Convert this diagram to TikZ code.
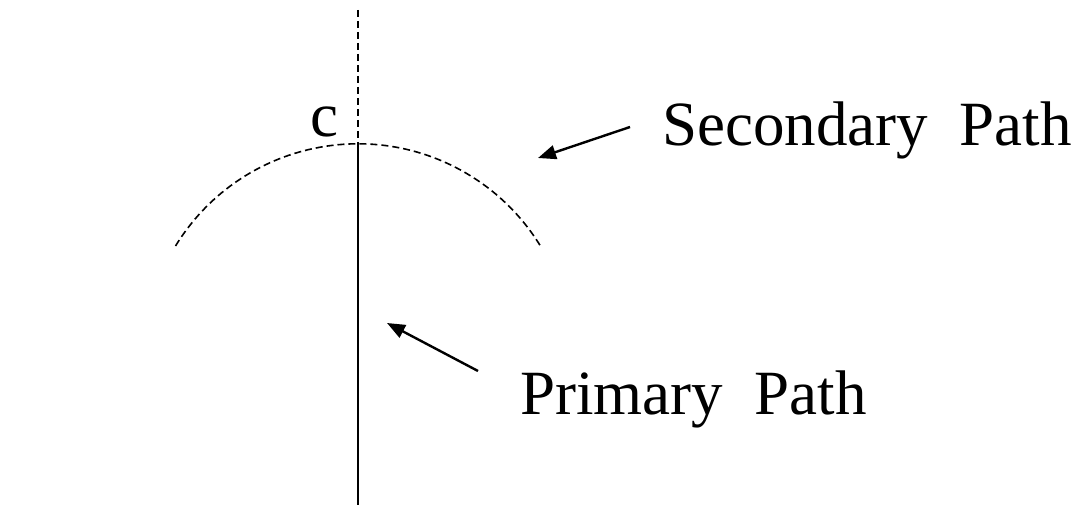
\documentclass[tikz,border=0pt]{standalone}
\usepackage{fontspec}
\setmainfont{Liberation Serif}
\usetikzlibrary{arrows.meta}
\tikzset{
  dashline/.style={line width=1.6pt, dash pattern=on 7pt off 4pt},
  solidline/.style={line width=1.8pt},
  pointer/.style={line width=2.4pt, -{Triangle[length=18pt,width=14pt]}},
  lbl/.style={inner sep=0pt, anchor=base west, font=\fontsize{63}{75}\selectfont}
}
\begin{document}
\begin{tikzpicture}[x=1pt,y=-1pt]
\useasboundingbox (0,0) rectangle (1083,505);
% vertical path
\coordinate (top) at (358,10);
\coordinate (c) at (358,144);
\coordinate (bottom) at (358,505);
\draw[dashline] (top) -- (c);
\draw[solidline] (c) -- (bottom);
% secondary arc
\coordinate (arcL) at (175.5,246);
\draw[dashline] (arcL) arc[start angle=-148.5, end angle=-31, radius=214];
% labels
\node[lbl] (clbl) at (310,137) {c};
\node[lbl] (sec) at (662,146) {Secondary\ \ Path};
\node[lbl] (pri) at (520,414) {Primary\ \ Path};
% pointers
\coordinate (sA) at (630,127);
\coordinate (sB) at (538,158);
\coordinate (pA) at (478,371);
\coordinate (pB) at (387,323);
\draw[pointer] (sA) -- (sB);
\draw[pointer] (pA) -- (pB);
\end{tikzpicture}
\end{document}
